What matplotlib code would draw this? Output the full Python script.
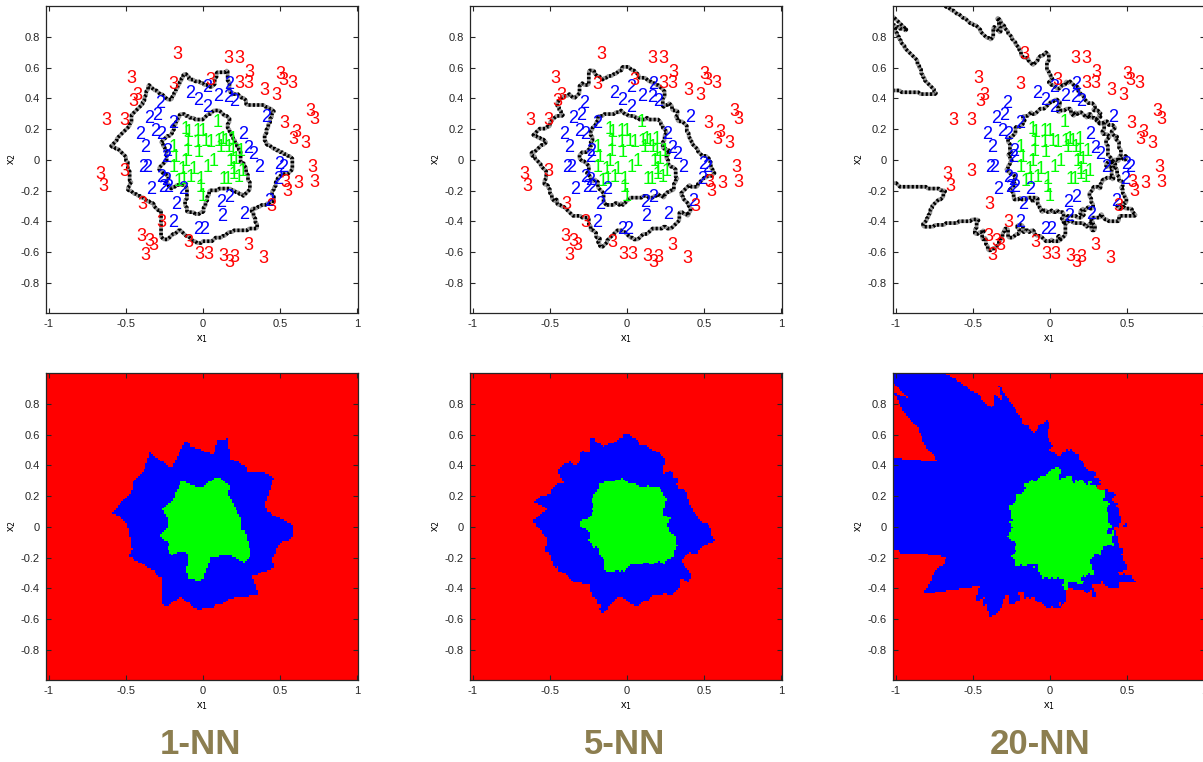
import numpy as np
import matplotlib
matplotlib.use("Agg")
import matplotlib.pyplot as plt
from matplotlib.colors import ListedColormap

plt.rcParams['font.family'] = ['Liberation Sans', 'DejaVu Sans']

# ---- training samples (x1, x2) per class ----
c1_x = [-0.143, -0.123, -0.065, -0.032, 0.065, -0.130, -0.065, -0.013, 0.019, 0.071,
        0.097, 0.117, 0.162, -0.221, -0.130, -0.058, 0.084, 0.136, 0.162, 0.214,
        -0.208, -0.143, 0.039, 0.149, 0.182, -0.221, -0.162, -0.091, 0.000, 0.169,
        0.227, 0.169, -0.156, -0.045, 0.104, 0.130, 0.201, -0.188, -0.110, -0.045,
        -0.032]
c1_y = [0.195, 0.175, 0.182, 0.182, 0.240, 0.117, 0.110, 0.117, 0.110, 0.117,
        0.130, 0.117, 0.130, 0.078, 0.052, 0.045, 0.078, 0.078, 0.052, 0.052,
        0.013, -0.013, -0.013, -0.013, 0.000, -0.052, -0.065, -0.065, -0.052, -0.065,
        -0.078, -0.097, -0.130, -0.130, -0.130, -0.130, -0.117, -0.143, -0.117, -0.182,
        -0.240]

c2_x = [-0.117, -0.065, -0.006, -0.006, -0.312, 0.136, 0.065, 0.130, 0.169, -0.383,
        -0.331, -0.227, -0.344, -0.442, -0.305, -0.409, -0.266, 0.377, 0.227, 0.260,
        0.292, 0.331, -0.422, -0.396, -0.273, -0.305, -0.273, -0.292, -0.260, -0.370,
        -0.162, -0.208, -0.227, -0.065, -0.026, 0.084, 0.136, 0.091, 0.234, 0.396,
        0.455, 0.461, 0.487]
c2_y = [0.429, 0.383, 0.338, 0.468, 0.364, 0.487, 0.409, 0.403, 0.377, 0.266,
        0.286, 0.234, 0.182, 0.162, 0.162, 0.078, 0.052, 0.273, 0.162, 0.071,
        0.032, -0.052, -0.052, -0.052, 0.013, -0.117, -0.136, -0.182, -0.182, -0.195,
        -0.195, -0.292, -0.409, -0.455, -0.455, -0.279, -0.247, -0.370, -0.357, -0.273,
        -0.130, -0.032, -0.052]

c3_x = [-0.201, 0.130, 0.201, 0.266, 0.468, 0.487, 0.545, 0.201, 0.260, 0.013,
        -0.227, -0.500, -0.455, -0.481, 0.364, 0.442, -0.662, -0.545, 0.494, 0.662,
        0.688, 0.571, 0.552, 0.630, 0.675, 0.506, 0.519, 0.584, 0.688, 0.409,
        -0.701, -0.682, -0.424, -0.305, -0.435, -0.383, -0.357, -0.409, -0.130, -0.058,
        0.000, 0.097, 0.136, 0.169, 0.260, 0.357, -0.545]
c3_y = [0.688, 0.662, 0.656, 0.571, 0.552, 0.519, 0.494, 0.494, 0.494, 0.519,
        0.487, 0.526, 0.416, 0.377, 0.448, 0.416, 0.253, 0.253, 0.234, 0.312,
        0.260, 0.175, 0.130, 0.104, -0.052, -0.149, -0.208, -0.156, -0.149, -0.305,
        -0.097, -0.175, -0.292, -0.409, -0.500, -0.532, -0.558, -0.623, -0.539, -0.617,
        -0.617, -0.630, -0.669, -0.636, -0.558, -0.643, -0.076]

k_values = [1, 5, 20]
titles = ['1-NN', '5-NN', '20-NN']
class_colors = {1: '#00FF00', 2: '#0000FF', 3: '#FF0000'}
x_ticks = [-1, -0.5, 0, 0.5, 1]
x_ticklabels = ['-1', '-0.5', '0', '0.5', '1']
y_ticks = [-0.8, -0.6, -0.4, -0.2, 0, 0.2, 0.4, 0.6, 0.8]
y_ticklabels = ['-0.8', '-0.6', '-0.4', '-0.2', '0', '0.2', '0.4', '0.6', '0.8']

px = np.array(c1_x + c2_x + c3_x)
py = np.array(c1_y + c2_y + c3_y)
lab = np.array([1] * len(c1_x) + [2] * len(c2_x) + [3] * len(c3_x))

XLIM = (-1.022, 1.007)
YLIM = (-0.995, 1.0)


def knn_grid(k, n=170):
    gx = np.linspace(XLIM[0], XLIM[1], n)
    gy = np.linspace(YLIM[0], YLIM[1], n)
    GX, GY = np.meshgrid(gx, gy)
    d2 = (GX.ravel()[:, None] - px[None, :]) ** 2 + (GY.ravel()[:, None] - py[None, :]) ** 2
    order = np.argsort(d2, axis=1)[:, :k]
    nl = lab[order]
    scores = []
    for c in (1, 2, 3):
        cnt = (nl == c).sum(axis=1).astype(float)
        hit = (nl == c)
        first = np.where(hit.any(axis=1), hit.argmax(axis=1), k)
        scores.append(cnt * 1000 - first)
    pred = np.argmax(np.vstack(scores), axis=0) + 1
    return gx, gy, pred.reshape(GY.shape)


fig = plt.figure(figsize=(12.03, 7.62), dpi=100)
W, H = 1203.0, 762.0
lefts = [45.5, 469.5, 892.5]
aw = 312.5
rows = [(6, 313), (373, 680)]
cmap = ListedColormap([class_colors[1], class_colors[2], class_colors[3]])


def style_axes(ax):
    ax.set_xlim(*XLIM)
    ax.set_ylim(*YLIM)
    ax.set_xticks(x_ticks)
    ax.set_xticklabels(x_ticklabels)
    ax.set_yticks(y_ticks)
    ax.set_yticklabels(y_ticklabels)
    ax.tick_params(direction='in', length=3.5, width=0.8, labelsize=8, pad=4,
                   top=True, right=True, colors='#262626', labelcolor='#262626')
    for s in ax.spines.values():
        s.set_color('#262626')
        s.set_linewidth(0.9)
    ax.set_xlabel('x$_1$', fontsize=8, labelpad=3)
    ax.set_ylabel('x$_2$', fontsize=8, labelpad=2)


for col, k in enumerate(k_values):
    gx, gy, Z = knn_grid(k)
    left = lefts[col] / W
    for r, (top, bot) in enumerate(rows):
        ax = fig.add_axes([left, 1 - bot / H, aw / W, (bot - top) / H])
        if r == 0:
            ax.set_facecolor('white')
            for xx, yy, c in zip(px, py, lab):
                ax.text(xx, yy, str(c), color=class_colors[c], fontsize=13,
                        ha='left', va='center', clip_on=True)
            ax.contour(gx, gy, Z, levels=[1.5, 2.5], colors='#9a9a9a',
                       linewidths=2.6, linestyles='solid')
            ax.contour(gx, gy, Z, levels=[1.5, 2.5], colors='k',
                       linewidths=2.6, linestyles=[(0, (0.6, 0.6))])
        else:
            ax.imshow(Z, extent=[XLIM[0], XLIM[1], YLIM[0], YLIM[1]], origin='lower',
                      cmap=cmap, vmin=0.5, vmax=3.5, interpolation='nearest', aspect='auto')
        style_axes(ax)

title_x = [200, 625, 1040]
for tx, t in zip(title_x, titles):
    fig.text(tx / W, 1 - 745 / H, t, ha='center', va='center', fontsize=25,
             fontweight='bold', color='#8C7E50')

fig.savefig('out.png', dpi=100)
